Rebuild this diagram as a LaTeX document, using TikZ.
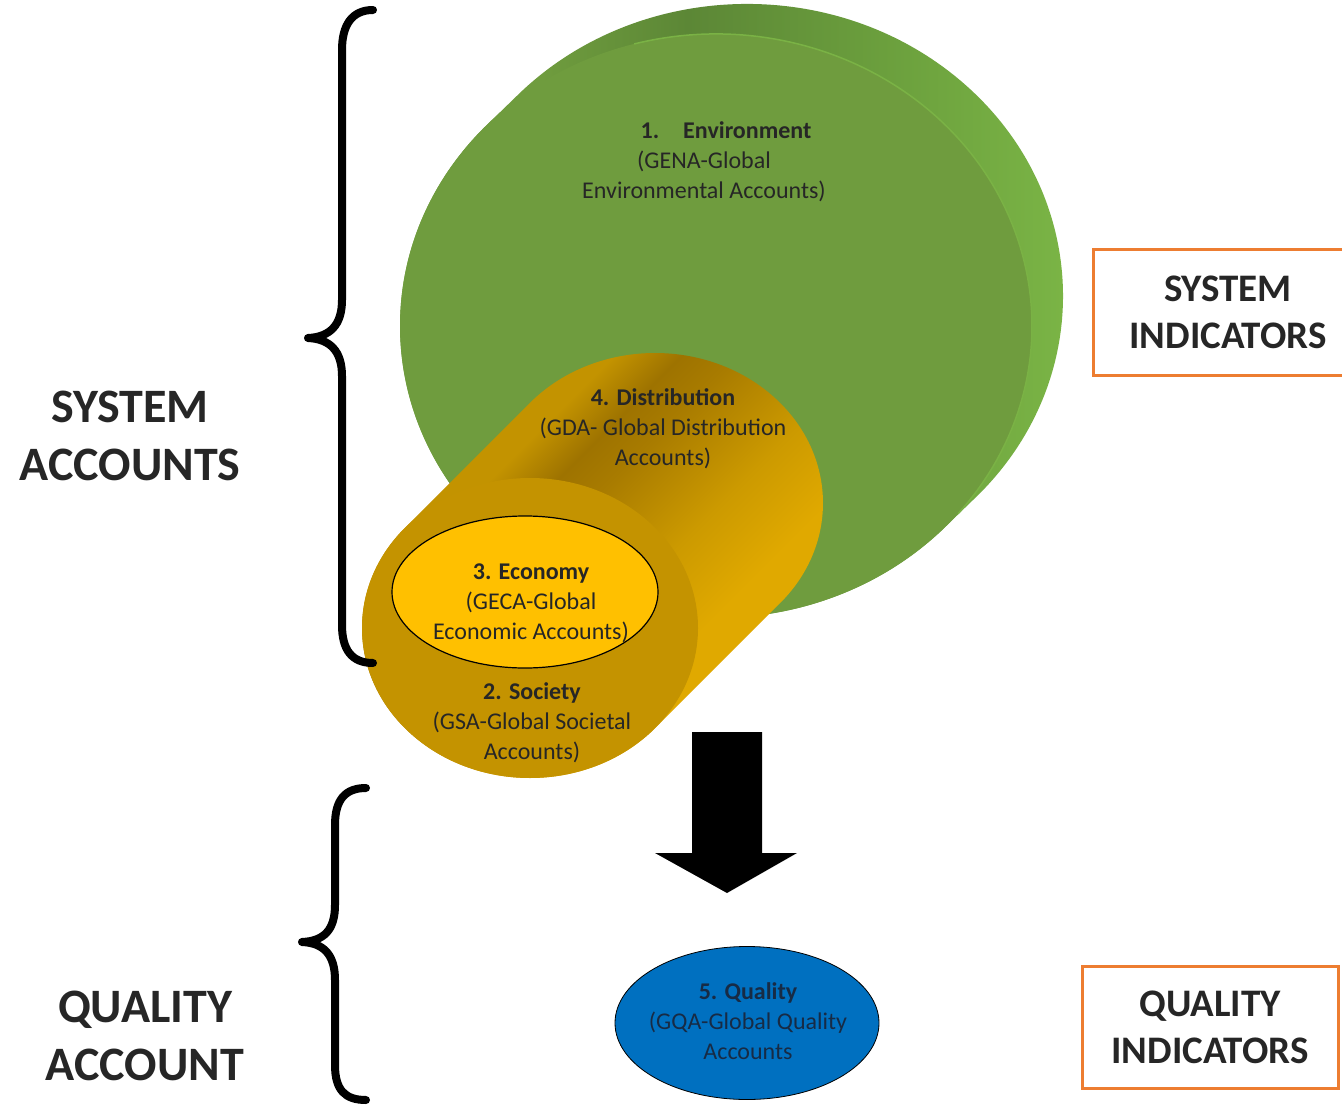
\documentclass[tikz,border=0pt]{standalone}
\usepackage{fontspec}
\setmainfont{Carlito}
\usetikzlibrary{shapes.geometric}

\definecolor{envface}{HTML}{6F9C3E}
\definecolor{envdark}{HTML}{5C8736}
\definecolor{envmid}{HTML}{6DA23E}
\definecolor{envlight}{HTML}{7DB847}
\definecolor{envrim}{HTML}{7AB245}
\definecolor{socface}{HTML}{C49300}
\definecolor{cylA}{HTML}{C39300}
\definecolor{cylB}{HTML}{9E7300}
\definecolor{cylC}{HTML}{A87B00}
\definecolor{cylD}{HTML}{CC9A00}
\definecolor{cylE}{HTML}{E0A900}
\definecolor{econfill}{HTML}{FFC000}
\definecolor{qualfill}{HTML}{0070C0}
\definecolor{boxline}{HTML}{ED7D31}
\definecolor{ink}{HTML}{262626}
\definecolor{inkblue}{HTML}{172B45}

% rim band of the environment disc: face-coloured on the left, dark on top, light on the right
\pgfdeclarehorizontalshading{envband}{100bp}{color(0bp)=(envface); color(37bp)=(envface); color(47bp)=(envdark); color(62bp)=(envmid); color(75bp)=(envlight); color(100bp)=(envlight)}
% body of the cylinder, from its upper-left edge to its lower-right edge
\pgfdeclarehorizontalshading{cylbody}{100bp}{color(0bp)=(cylA); color(36bp)=(cylA); color(41bp)=(cylB); color(45bp)=(cylC); color(55bp)=(cylD); color(63bp)=(cylE); color(100bp)=(cylE)}

\tikzset{
  acct/.style={font=\fontsize{24}{30}\selectfont, text=ink, align=center, inner sep=0pt},
  biglabel/.style={font=\bfseries\fontsize{48}{58}\selectfont, text=ink, align=center, inner sep=0pt},
  indlabel/.style={font=\bfseries\fontsize{39}{47}\selectfont, text=ink, align=center, inner sep=0pt},
  indbox/.style={draw=boxline, line width=3pt},
  face/.style={ellipse, inner sep=0pt, draw=none},
  bracket/.style={line width=8pt, line cap=round, line join=round},
}

\begin{document}
\begin{tikzpicture}[x=1pt,y=-1pt]
\useasboundingbox (0,0) rectangle (1342,1105);
\clip (0,0) rectangle (1342,1105);
\fill[white] (0,0) rectangle (1342,1105);

% ---- environment disc: rim band, then front face
\shade[shading=envband]
  (948.1,524.1) arc[start angle=42.74, end angle=222.74, x radius=316, y radius=292]
  -- ++(31,-30) arc[start angle=222.74, end angle=402.74, x radius=316, y radius=292] -- cycle;
\node[face, fill=envface, minimum width=632, minimum height=584] (env) at (716,326) {};
\draw[envrim, line width=1.5pt] (634.2,43.95) arc[start angle=255, end angle=400, x radius=316, y radius=292];

% ---- distribution / society cylinder
\shade[shading=cylbody, shading angle=-45]
  (655.3,727.9) arc[start angle=41.76, end angle=221.76, x radius=168, y radius=150]
  -- ++(125,-125) arc[start angle=221.76, end angle=401.76, x radius=168, y radius=150] -- cycle;
\node[face, fill=socface, minimum width=336, minimum height=300] (soc) at (530,628) {};
\node[face, fill=econfill, draw=black, line width=1.2pt, minimum width=266, minimum height=152] (econ) at (525,592) {};

% ---- quality ellipse
\node[face, fill=qualfill, draw=black, line width=0.8pt, minimum width=264, minimum height=153] (qual) at (747,1023) {};

% ---- account texts
\node[acct] (envtxt) at (704,162) {\hspace*{44pt}\textbf{1.\hspace{24pt}Environment}\\(GENA-Global\\Environmental Accounts)};
\node[acct] (distxt) at (663,429) {\textbf{4. Distribution}\\(GDA- Global Distribution\\Accounts)};
\node[acct] (ecotxt) at (531,603) {\textbf{3. Economy}\\(GECA-Global\\Economic Accounts)};
\node[acct] (soctxt) at (532,723) {\textbf{2. Society}\\(GSA-Global Societal\\Accounts)};
\node[acct, text=inkblue] (qualtxt) at (748,1021) {\textbf{5. Quality}\\(GQA-Global Quality\\Accounts};

% ---- block arrow from the system accounts down to the quality account
\coordinate (flowtop) at (727,732);
\coordinate (flowtip) at (727,893);
\fill[black] (flowtop) ++(-35,0) -- ++(70,0) -- ++(0,121) -- ++(35,0) -- (flowtip) -- ++(-72,-40) -- ++(37,0) -- cycle;

% ---- braces
\draw[bracket] (373,10) .. controls (352,10) and (342,25) .. (342,50) -- (342,300)
  .. controls (342,325) and (330,337) .. (308,338)
  .. controls (330,339) and (342,351) .. (342,376) -- (342,625)
  .. controls (342,650) and (352,663) .. (373,663);
\draw[bracket] (366,788) .. controls (345,788) and (335,800) .. (335,825) -- (335,905)
  .. controls (335,930) and (324,941) .. (302,942)
  .. controls (324,943) and (335,955) .. (335,980) -- (335,1065)
  .. controls (335,1090) and (345,1100) .. (366,1100);

% ---- side labels
\node[biglabel] (sysacc) at (130,436) {SYSTEM\\ACCOUNTS};
\node[biglabel] (qualacc) at (145,1036) {QUALITY\\ACCOUNT};

% ---- indicator boxes
\node[indlabel, indbox, minimum width=270, minimum height=126] (sysind) at (1228,312) {SYSTEM\\INDICATORS};
\node[indlabel, indbox, minimum width=256, minimum height=122] (qualind) at (1210,1027) {QUALITY\\INDICATORS};
\end{tikzpicture}
\end{document}
